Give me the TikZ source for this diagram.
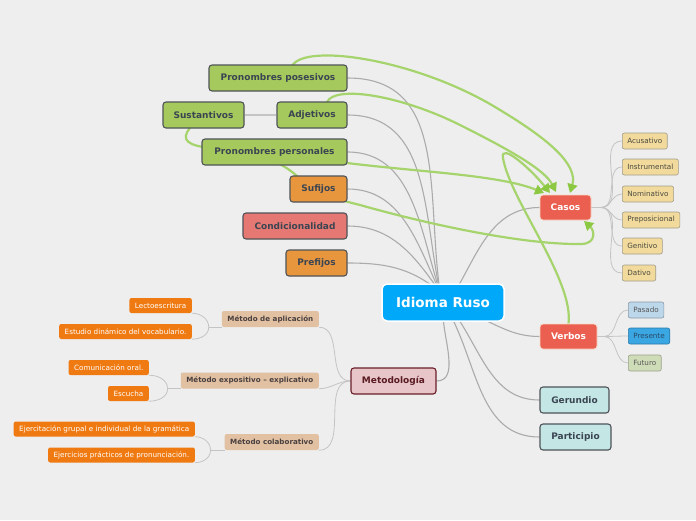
\documentclass[tikz,border=0pt]{standalone}
\usepackage{fontspec}
\setmainfont{DejaVu Sans}
\usetikzlibrary{arrows.meta}
\pgfdeclarelayer{bg}
\pgfdeclarelayer{background}
\pgfsetlayers{bg,background,main}
\definecolor{bgc}{HTML}{EEEEEE}
\definecolor{gfill}{HTML}{A5C95C}
\definecolor{dborder}{HTML}{4F5358}
\definecolor{dtext}{HTML}{3B4552}
\definecolor{ofill}{HTML}{E8963E}
\definecolor{rfill}{HTML}{E57872}
\definecolor{rootc}{HTML}{00A8FA}
\definecolor{casc}{HTML}{EA5F50}
\definecolor{casb}{HTML}{F7D8C8}
\definecolor{tealc}{HTML}{C4E7E5}
\definecolor{metc}{HTML}{E7C5C9}
\definecolor{metb}{HTML}{6A1E28}
\definecolor{mett}{HTML}{5A1A22}
\definecolor{tanc}{HTML}{F2DA9C}
\definecolor{tanb}{HTML}{A09C8C}
\definecolor{tant}{HTML}{4A4A40}
\definecolor{mchild}{HTML}{E2C1A3}
\definecolor{mchildt}{HTML}{4A4040}
\definecolor{leafc}{HTML}{F07A12}
\definecolor{gline}{HTML}{A6D46C}
\definecolor{garrow}{HTML}{8CC842}
\definecolor{conncol}{HTML}{ABABAB}
\definecolor{lconncol}{HTML}{C4C4C4}
\definecolor{pasc}{HTML}{BCD6EA}
\definecolor{pasb}{HTML}{8A9AAA}
\definecolor{prec}{HTML}{3AA6E2}
\definecolor{preb}{HTML}{2A7AAA}
\definecolor{pret}{HTML}{2A4A66}
\definecolor{futc}{HTML}{CFDCB8}
\definecolor{futb}{HTML}{9AA08A}
\tikzset{
  topic/.style={draw=dborder, line width=1.1pt, rounded corners=3pt, text=dtext,
    font=\fontsize{9}{10}\selectfont\bfseries, inner sep=0pt, minimum height=26pt},
  redtopic/.style={draw=casb, line width=0.8pt, rounded corners=3pt, fill=casc, text=white,
    font=\fontsize{9}{10}\selectfont\bfseries, inner sep=0pt, minimum height=25pt},
  small/.style={draw=#1, line width=0.6pt, rounded corners=2pt, font=\fontsize{7.2}{8}\selectfont,
    inner xsep=5pt, inner ysep=0pt, minimum height=16pt, anchor=west},
  mchildbox/.style={fill=mchild, rounded corners=2pt, text=mchildt, font=\fontsize{7.15}{8}\selectfont\bfseries,
    inner xsep=5.5pt, inner ysep=0pt, minimum height=16pt, anchor=east},
  leafbox/.style={fill=leafc, rounded corners=2pt, text=white, font=\fontsize{7.2}{8}\selectfont,
    inner xsep=5.5pt, inner ysep=0pt, minimum height=15pt, anchor=east},
  conn/.style={draw=conncol, line width=1.1pt},
  lconn/.style={draw=lconncol, line width=0.8pt},
  rel/.style={draw=gline, line width=2.2pt, -{Triangle[length=9pt,width=10pt,color=garrow]}},
}
\begin{document}
\begin{tikzpicture}[x=1pt,y=-1pt]
\useasboundingbox (0,0) rectangle (696,520);
\begin{pgfonlayer}{bg}
\fill[bgc] (0,0) rectangle (696,520);
\end{pgfonlayer}

% root
\node[draw=white, line width=1.5pt, rounded corners=5pt, fill=rootc, text=white,
  font=\fontsize{13.5}{15}\selectfont\bfseries, inner sep=0pt, minimum width=122pt, minimum height=37pt]
  (root) at (443,302.5) {Idioma Ruso};

% left topics
\node[topic, fill=gfill, minimum width=138pt] (pp) at (278,78) {Pronombres posesivos};
\node[topic, fill=gfill, minimum width=81pt] (sus) at (203.5,115) {Sustantivos};
\node[topic, fill=gfill, minimum width=70pt] (adj) at (312,115) {Adjetivos};
\node[topic, fill=gfill, minimum width=145pt] (ppe) at (274.5,152) {Pronombres personales};
\node[topic, fill=ofill, minimum width=57pt] (suf) at (318.5,189) {Sufijos};
\node[topic, fill=rfill, minimum width=104pt] (cond) at (295,226) {Condicionalidad};
\node[topic, fill=ofill, minimum width=61pt] (pre) at (316.5,263) {Prefijos};

% right topics
\node[redtopic, minimum width=51pt] (casos) at (565.5,207.5) {Casos};
\node[redtopic, minimum width=57pt] (verbos) at (568.5,336.5) {Verbos};
\node[topic, fill=tealc, minimum width=69pt] (ger) at (574.5,400) {Gerundio};
\node[topic, fill=tealc, minimum width=71pt] (par) at (575.5,437) {Participio};
\node[topic, draw=metb, fill=metc, text=mett, minimum width=85pt] (met) at (393.5,381) {Metodología};

% casos children
\node[small=tanb, fill=tanc, text=tant] (c1) at (622,141) {Acusativo};
\node[small=tanb, fill=tanc, text=tant] (c2) at (622,167) {Instrumental};
\node[small=tanb, fill=tanc, text=tant] (c3) at (622,194) {Nominativo};
\node[small=tanb, fill=tanc, text=tant] (c4) at (622,220) {Preposicional};
\node[small=tanb, fill=tanc, text=tant] (c5) at (622,246) {Genitivo};
\node[small=tanb, fill=tanc, text=tant] (c6) at (622,273) {Dativo};

% verbos children
\node[small=pasb, fill=pasc, text={black!65}] (v1) at (628,310) {Pasado};
\node[small=preb, fill=prec, text=pret] (v2) at (628,336) {Presente};
\node[small=futb, fill=futc, text={black!65}] (v3) at (628,363) {Futuro};

% metodologia children
\node[mchildbox] (ma) at (319,319) {Método de aplicación};
\node[mchildbox] (me) at (319,380.5) {Método expositivo – explicativo};
\node[mchildbox] (mc) at (319,442) {Método colaborativo};

% leaves
\node[leafbox] (l1) at (192,305.5) {Lectoescritura};
\node[leafbox] (l2) at (192,331.5) {Estudio dinámico del vocabulario.};
\node[leafbox] (l3) at (149,367.5) {Comunicación oral.};
\node[leafbox] (l4) at (149,393.5) {Escucha};
\node[leafbox] (l5) at (195,429) {Ejercitación grupal e individual de la gramática};
\node[leafbox] (l6) at (195,455) {Ejercicios prácticos de pronunciación.};

\begin{pgfonlayer}{background}
% hubs
\coordinate (hub) at (440,292);
\coordinate (hubR) at (455,292);
\coordinate (hubV) at (470,314);
\coordinate (hubG) at (455,314);
\coordinate (hubP) at (450,314);
\coordinate (hubM) at (443,314);
% left connectors
\draw[conn] (pp.east) to[out=0,in=98,looseness=1.1] (hub);
\draw[conn] (adj.east) to[out=0,in=102,looseness=1.05] (hub);
\draw[conn] (ppe.east) to[out=0,in=108] (hub);
\draw[conn] (suf.east) to[out=0,in=115] (hub);
\draw[conn] (cond.east) to[out=0,in=125] (hub);
\draw[conn] (pre.east) to[out=0,in=140] (hub);
\draw[draw=lconncol, line width=1.5pt] (sus.east) -- (adj.west);
% right connectors
\draw[conn] (hubR) to[out=60,in=180] (casos.west);
\draw[conn] (hubV) to[out=-20,in=180] (verbos.west);
\draw[conn] (hubG) to[out=-55,in=180] (ger.west);
\draw[conn] (hubP) to[out=-62,in=180] (par.west);
\draw[conn] (hubM) to[out=-90,in=0,looseness=0.9] (met.east);
% casos children
\coordinate (cs) at (601,207.5);
\draw[lconn] (casos.east) -- (cs);
\foreach \c in {c1,c2,c3,c4,c5,c6} \draw[lconn] (cs) to[out=0,in=180] (\c.west);
\coordinate (vs) at (604,336.5);
\draw[lconn] (verbos.east) -- (vs);
\foreach \c in {v1,v2,v3} \draw[lconn] (vs) to[out=0,in=180] (\c.west);
% metodologia children
\draw[lconn] (met.west) to[out=180,in=0] (ma.south east);
\draw[lconn] (met.west) to[out=180,in=0] (me.south east);
\draw[lconn] (met.west) to[out=180,in=0] (mc.south east);
\draw[lconn] (ma.south west) -- ++(-13,0) coordinate (ka);
\draw[lconn] (ka) to[out=90,in=0] (l1.south east);
\draw[lconn] (ka) to[out=-90,in=0] (l2.south east);
\draw[lconn] (me.south west) -- ++(-13,0) coordinate (kb);
\draw[lconn] (kb) to[out=90,in=0] (l3.south east);
\draw[lconn] (kb) to[out=-90,in=0] (l4.south east);
\draw[lconn] (mc.south west) -- ++(-14,0) coordinate (kc);
\draw[lconn] (kc) to[out=90,in=0] (l5.south east);
\draw[lconn] (kc) to[out=-90,in=0] (l6.south east);
% relationship curves
\coordinate (a1) at (570,193);
\coordinate (a2) at (556,192);
\coordinate (a3) at (544,193);
\coordinate (a4) at (550,193);
\coordinate (a5) at (584,221);
\draw[rel] (292,66) .. controls (305,42) and (420,60) .. (500,110) .. controls (550,140) and (578,165) .. (a1);
\draw[rel] (327,102) .. controls (335,85) and (400,95) .. (460,125) .. controls (510,150) and (545,170) .. (a2);
\draw[rel] (347,163) .. controls (420,172) and (500,175) .. (a3);
\draw[rel] (verbos.north) .. controls (574,280) and (510,200) .. (503,158) .. controls (500,142) and (530,168) .. (a4);
\draw[rel] (190,128) .. controls (180,140) and (188,146) .. (212,148) .. controls (255,152) and (280,160) .. (298,177) .. controls (318,195) and (340,200) .. (360,205) .. controls (420,222) and (520,245) .. (582,244) .. controls (597,243) and (594,230) .. (a5);
\end{pgfonlayer}
\end{tikzpicture}
\end{document}
